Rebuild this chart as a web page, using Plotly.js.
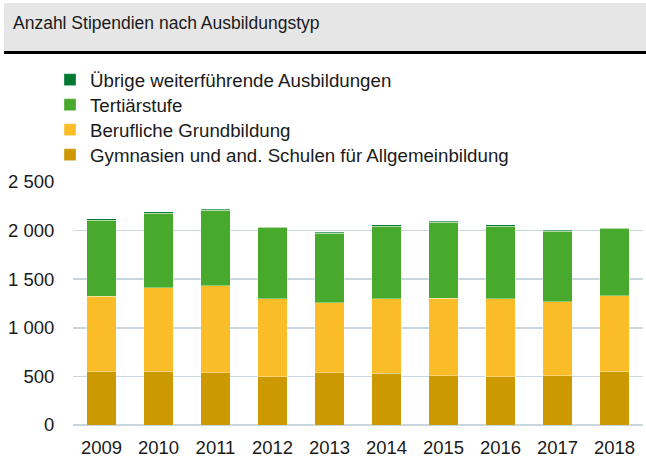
<!DOCTYPE html>
<html>
<head>
<meta charset="utf-8">
<script src="https://cdn.plot.ly/plotly-3.0.1.min.js"></script>
<style>html,body{margin:0;padding:0;background:#fff;}#chart{width:646px;height:457px;}</style>
</head>
<body>
<div id="chart"></div>
<script>
const years = ['2009','2010','2011','2012','2013','2014','2015','2016','2017','2018'];
const gymnasien = [550, 550, 537, 499, 537, 530, 509, 499, 509, 547];
const beruflich = [774, 864, 894, 801, 719, 767, 795, 798, 757, 781];
const tertiaer = [781, 767, 777, 736, 719, 750, 781, 750, 726, 695];
const uebrige = [17, 14, 11, 4, 10, 14, 10, 14, 10, 7];
const seriesNames = ['Gymnasien und and. Schulen für Allgemeinbildung', 'Berufliche Grundbildung', 'Tertiärstufe', 'Übrige weiterführende Ausbildungen'];
const colors = ['#cc9a00', '#fabd27', '#48aa2d', '#007a33'];
const seriesValues = [gymnasien, beruflich, tertiaer, uebrige];

const FONT = 'Liberation Sans, Arial, sans-serif';
const legendIds = ['legend4', 'legend3', 'legend2', 'legend'];
const traces = seriesValues.map((vals, i) => ({
  type: 'bar',
  name: seriesNames[i],
  x: years,
  y: vals,
  legend: legendIds[i],
  marker: {color: colors[i], line: {color: 'rgba(255,255,255,0.35)', width: 1}},
  hoverinfo: 'x+y+name'
}));

const L = 73, R = 3, T = 182, B = 32, W = 646, H = 457;
const pw = W - L - R, ph = H - T - B;
const px = p => (p - L) / pw;
const py = p => (H - B - p) / ph;

function legendAt(centerY) {
  return {
    x: px(50), xanchor: 'left',
    y: py(centerY - 17), yanchor: 'top',
    font: {family: FONT, size: 18.7, color: '#1a1a1a'},
    bgcolor: 'rgba(0,0,0,0)',
    itemclick: false
  };
}

const layout = {
  width: W, height: H,
  margin: {l: L, r: R, t: T, b: B, pad: 0},
  paper_bgcolor: '#ffffff',
  plot_bgcolor: '#ffffff',
  font: {family: FONT, size: 18.5, color: '#1a1a1a'},
  separators: '. ',
  barmode: 'stack',
  bargap: 0.49,
  showlegend: true,
  title: {
    text: 'Anzahl Stipendien nach Ausbildungstyp',
    xref: 'container', yref: 'container',
    x: 13 / W, xanchor: 'left',
    y: 1 - 23 / H, yanchor: 'middle',
    font: {family: FONT, size: 17.5, color: '#1a1a1a'}
  },
  shapes: [
    {type: 'rect', xref: 'paper', yref: 'paper', x0: px(4), x1: px(W + 2), y0: py(51), y1: py(3),
     fillcolor: '#e6e6e6', line: {width: 0}, layer: 'below'},
    {type: 'line', xref: 'paper', yref: 'paper', x0: px(4), x1: px(W + 2), y0: py(52.5), y1: py(52.5),
     line: {color: '#000000', width: 3}}
  ],
  legend: legendAt(78),
  legend2: legendAt(103),
  legend3: legendAt(128),
  legend4: legendAt(153),
  xaxis: {
    type: 'category',
    showgrid: false,
    showline: false,
    zeroline: false,
    ticks: 'outside', ticklen: 6, tickcolor: 'rgba(0,0,0,0)',
    tickfont: {family: FONT, size: 18.5, color: '#1a1a1a'}
  },
  yaxis: {
    range: [0, 2500],
    dtick: 500,
    tick0: 0,
    separatethousands: true,
    showgrid: true,
    gridcolor: '#c8d7de',
    gridwidth: 1.5,
    zeroline: true,
    zerolinecolor: '#c8d7de',
    zerolinewidth: 1.5,
    showline: false,
    ticks: 'outside', ticklen: 14, tickcolor: 'rgba(0,0,0,0)',
    tickfont: {family: FONT, size: 18.5, color: '#1a1a1a'}
  }
};

Plotly.newPlot('chart', traces, layout, {displayModeBar: false, staticPlot: true});
</script>
</body>
</html>
